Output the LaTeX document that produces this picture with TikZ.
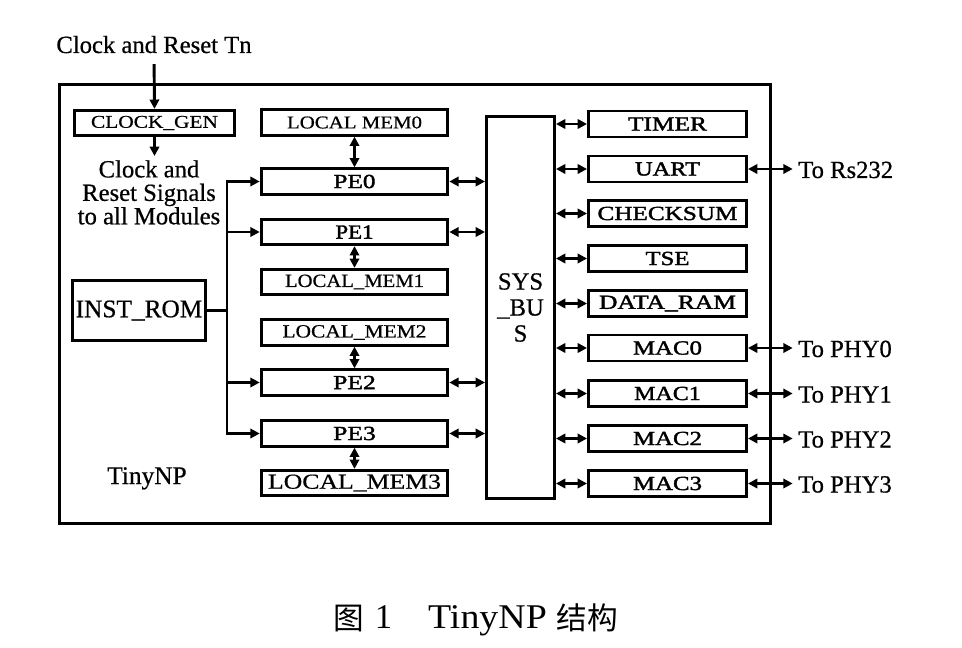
\documentclass[tikz,border=0pt]{standalone}
\usepackage{fontspec}
\setmainfont{Liberation Serif}[FakeBold=0.6]
\newfontfamily\hvy{Liberation Serif}[FakeBold=1.6]
\newfontfamily\thin{Liberation Serif}
\newfontfamily\cjk{Noto Sans CJK SC}
\usetikzlibrary{arrows.meta}
\newcommand\bxt[3]{{\fontsize{#1}{#1}\selectfont\resizebox{#2}{\height}{#3}}}
\newcommand\hxt[3]{{\hvy\fontsize{#1}{#1}\selectfont\resizebox{#2}{\height}{#3}}}
\tikzset{
  ln/.style={line width=2.2pt},
  box/.style={draw, line width=2.2pt, inner sep=0pt},
  lbox/.style={box, minimum width=140pt, minimum height=19pt},
  rbox/.style={box, minimum width=118.5pt, minimum height=19.5pt},
  tip/.style={ln, -{Triangle[length=7pt,width=7pt]}},
  dbl/.style={ln, {Triangle[length=7pt,width=7pt]}-{Triangle[length=7pt,width=7pt]}},
  lbl/.style={font=\fontsize{18.5pt}{17.6pt}\selectfont, inner sep=0pt},
}
\begin{document}
\begin{tikzpicture}[x=0.75pt,y=-0.75pt]
\useasboundingbox (0,0) rectangle (962,648);
% outer frame
\node[box, minimum width=533.5pt, minimum height=329.5pt] (outer) at (415,304) {};
% clock
\node[lbl, anchor=base] (cin) at (154,53) {Clock and Reset Tn};
\node[box, minimum width=120pt, minimum height=19pt] (cg) at (154.5,123) {\bxt{13.5pt}{95.25pt}{CLOCK\_GEN}};
\node[lbl, align=center, anchor=north] (sig) at (149,160) {Clock and\\Reset Signals\\to all Modules};
\draw[tip, shorten <=8pt] (cin.south) -- (cg.north);
\draw[tip, shorten >=3pt] (cg.south) -- (cg.south |- sig.north);
% inst rom
\node[box, minimum width=100pt, minimum height=45.5pt, font=\fontsize{19pt}{19pt}\selectfont] (rom) at (139,310.5) {INST\_ROM};
% left column
\node[lbox] (mem0) at (354.5,122.5) {\bxt{13.5pt}{101.25pt}{LOCAL MEM0}};
\node[lbox] (pe0)  at (354.5,181.5) {\hxt{15pt}{31.5pt}{PE0}};
\node[lbox] (pe1)  at (354.5,232)   {\hxt{15pt}{28.5pt}{PE1}};
\node[lbox] (mem1) at (354.5,282)   {\bxt{14pt}{104.25pt}{LOCAL\_MEM1}};
\node[lbox] (mem2) at (354.5,332.5) {\bxt{14pt}{108pt}{LOCAL\_MEM2}};
\node[lbox] (pe2)  at (354.5,382.5) {\hxt{15pt}{32pt}{PE2}};
\node[lbox] (pe3)  at (354.5,433.5) {\hxt{15pt}{32pt}{PE3}};
\node[lbox] (mem3) at (354.5,483)   {\bxt{16pt}{129.75pt}{LOCAL\_MEM3}};
\draw[dbl] (mem0.south) -- (pe0.north);
\draw[dbl] (pe1.south) -- (mem1.north);
\draw[dbl] (mem2.south) -- (pe2.north);
\draw[dbl] (pe3.south) -- (mem3.north);
% distribution bus from INST_ROM
\coordinate (bx) at (227,310.5);
\draw[ln] (rom.east) -- (bx);
\draw[tip] (bx |- pe1.west) -- (bx |- pe0.west) -- (pe0.west);
\draw[tip] (bx |- pe1.west) -- (pe1.west);
\draw[tip] (bx |- pe2.west) -- (pe2.west);
\draw[tip] (bx |- pe1.west) -- (bx |- pe3.west) -- (pe3.west);
% system bus
\node[box, minimum width=51pt, minimum height=286.5pt, align=center, font=\fontsize{18.5pt}{19.5pt}\selectfont] (bus) at (520.5,307.5) {SYS\\\_BU\\S};
\foreach \p in {pe0,pe1,pe2,pe3} \draw[dbl] (\p.east) -- (\p.east -| bus.west);
% right column
\node[rbox] (timer) at (667.5,124)   {\hxt{15pt}{59.25pt}{TIMER}};
\node[rbox] (uart)  at (667.5,169)   {\hxt{15pt}{48.75pt}{UART}};
\node[rbox] (chk)   at (667.5,213.5) {\hxt{15pt}{105pt}{CHECKSUM}};
\node[rbox] (tse)   at (667.5,258.5) {\hxt{15pt}{33pt}{TSE}};
\node[rbox] (dram)  at (667.5,303.5) {\hxt{15pt}{102.75pt}{DATA\_RAM}};
\node[rbox] (mac0)  at (667.5,348)   {\hxt{15pt}{51.75pt}{MAC0}};
\node[rbox] (mac1)  at (667.5,393.5) {\hxt{15pt}{50pt}{MAC1}};
\node[rbox] (mac2)  at (667.5,438.5) {\hxt{15pt}{51.75pt}{MAC2}};
\node[rbox] (mac3)  at (667.5,483.5) {\hxt{15pt}{51.75pt}{MAC3}};
\foreach \b in {timer,uart,chk,tse,dram,mac0,mac1,mac2,mac3} \draw[dbl] (bus.east |- \b.west) -- (\b.west);
% external labels
\node[lbl, anchor=base west] (lrs) at (798,178) {To Rs232};
\node[lbl, anchor=base west] (lp0) at (798,357) {To PHY0};
\node[lbl, anchor=base west] (lp1) at (798,402.5) {To PHY1};
\node[lbl, anchor=base west] (lp2) at (798,447.5) {To PHY2};
\node[lbl, anchor=base west] (lp3) at (798,492.5) {To PHY3};
\draw[dbl, shorten >=4pt] (uart.east) -- (uart.east -| lrs.west);
\draw[dbl, shorten >=4pt] (mac0.east) -- (mac0.east -| lp0.west);
\draw[dbl, shorten >=4pt] (mac1.east) -- (mac1.east -| lp1.west);
\draw[dbl, shorten >=4pt] (mac2.east) -- (mac2.east -| lp2.west);
\draw[dbl, shorten >=4pt] (mac3.east) -- (mac3.east -| lp3.west);
% TinyNP label
\node[lbl, font=\fontsize{19pt}{19pt}\selectfont, anchor=base] (tn) at (147,484) {TinyNP};
% caption
\node[anchor=base, inner sep=0pt, font=\cjk\fontsize{23pt}{23pt}\selectfont] (c1) at (348.5,629) {图};
\node[anchor=base, inner sep=0pt, font=\thin\fontsize{26pt}{26pt}\selectfont] (c2) at (383.5,628) {1};
\node[anchor=base, inner sep=0pt, font=\thin] (c3) at (487.5,628) {\bxt{26pt}{89pt}{TinyNP}};
\node[anchor=base, inner sep=0pt, font=\cjk\fontsize{23pt}{23pt}\selectfont] (c4) at (587.5,629) {结构};
\end{tikzpicture}
\end{document}
